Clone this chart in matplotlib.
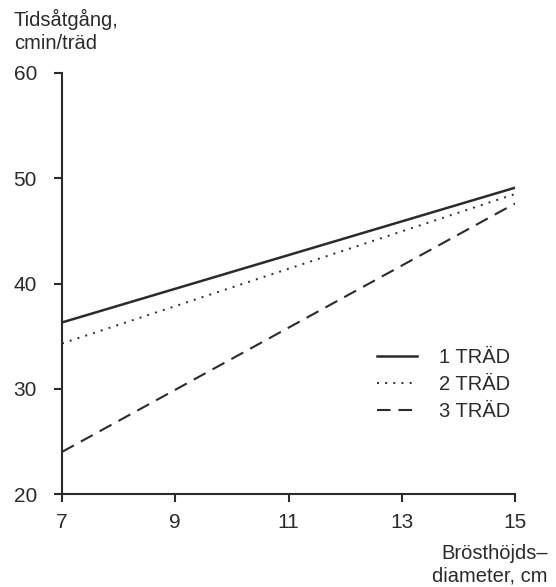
import matplotlib.pyplot as plt

plt.rcParams['font.family'] = ['Liberation Sans', 'DejaVu Sans']

# Diameter (cm) and time consumption (cmin/träd)
diameter = [7, 15]
trad_1 = [36.3, 49.1]
trad_2 = [34.3, 48.5]
trad_3 = [24.0, 47.6]
series_labels = ['1 TRÄD', '2 TRÄD', '3 TRÄD']
x_ticks = [7, 9, 11, 13, 15]
y_ticks = [20, 30, 40, 50, 60]

ink = '#2b2b2b'

fig = plt.figure(figsize=(5.56, 5.87), dpi=100)
ax = fig.add_axes([62 / 556, 1 - 494 / 587, (515 - 62) / 556, (494 - 73) / 587])

ax.plot(diameter, trad_1, color=ink, lw=1.8, ls='-', label=series_labels[0])
ax.plot(diameter, trad_2, color=ink, lw=1.4, ls=(0, (1, 3.2)), label=series_labels[1])
ax.plot(diameter, trad_3, color=ink, lw=1.5, ls=(0, (6.5, 3.8)), label=series_labels[2])

ax.set_xlim(7, 15)
ax.set_ylim(20, 60)
ax.set_xticks(x_ticks)
ax.set_yticks(y_ticks)
ax.tick_params(direction='out', length=6, width=1.5, color=ink, labelcolor=ink,
               labelsize=15)
ax.tick_params(axis='y', pad=12)
ax.tick_params(axis='x', pad=8)
for side in ['top', 'right']:
    ax.spines[side].set_visible(False)
for side in ['left', 'bottom']:
    ax.spines[side].set_color(ink)
    ax.spines[side].set_linewidth(1.5)

leg = ax.legend(loc='upper left', bbox_to_anchor=(0.655, 0.39), frameon=False,
                fontsize=14.5, handlelength=2.0, handletextpad=1.1,
                labelspacing=0.4, labelcolor=ink)

fig.text(14 / 556, 1 - 9 / 587, 'Tidsåtgång,\ncmin/träd', ha='left', va='top',
         fontsize=14.5, color=ink, linespacing=1.25)
fig.text(548 / 556, 1 - 586 / 587, 'Brösthöjds–\ndiameter, cm', ha='right',
         va='bottom', fontsize=14.5, color=ink, linespacing=1.25)

fig.savefig('out.png', dpi=100)
